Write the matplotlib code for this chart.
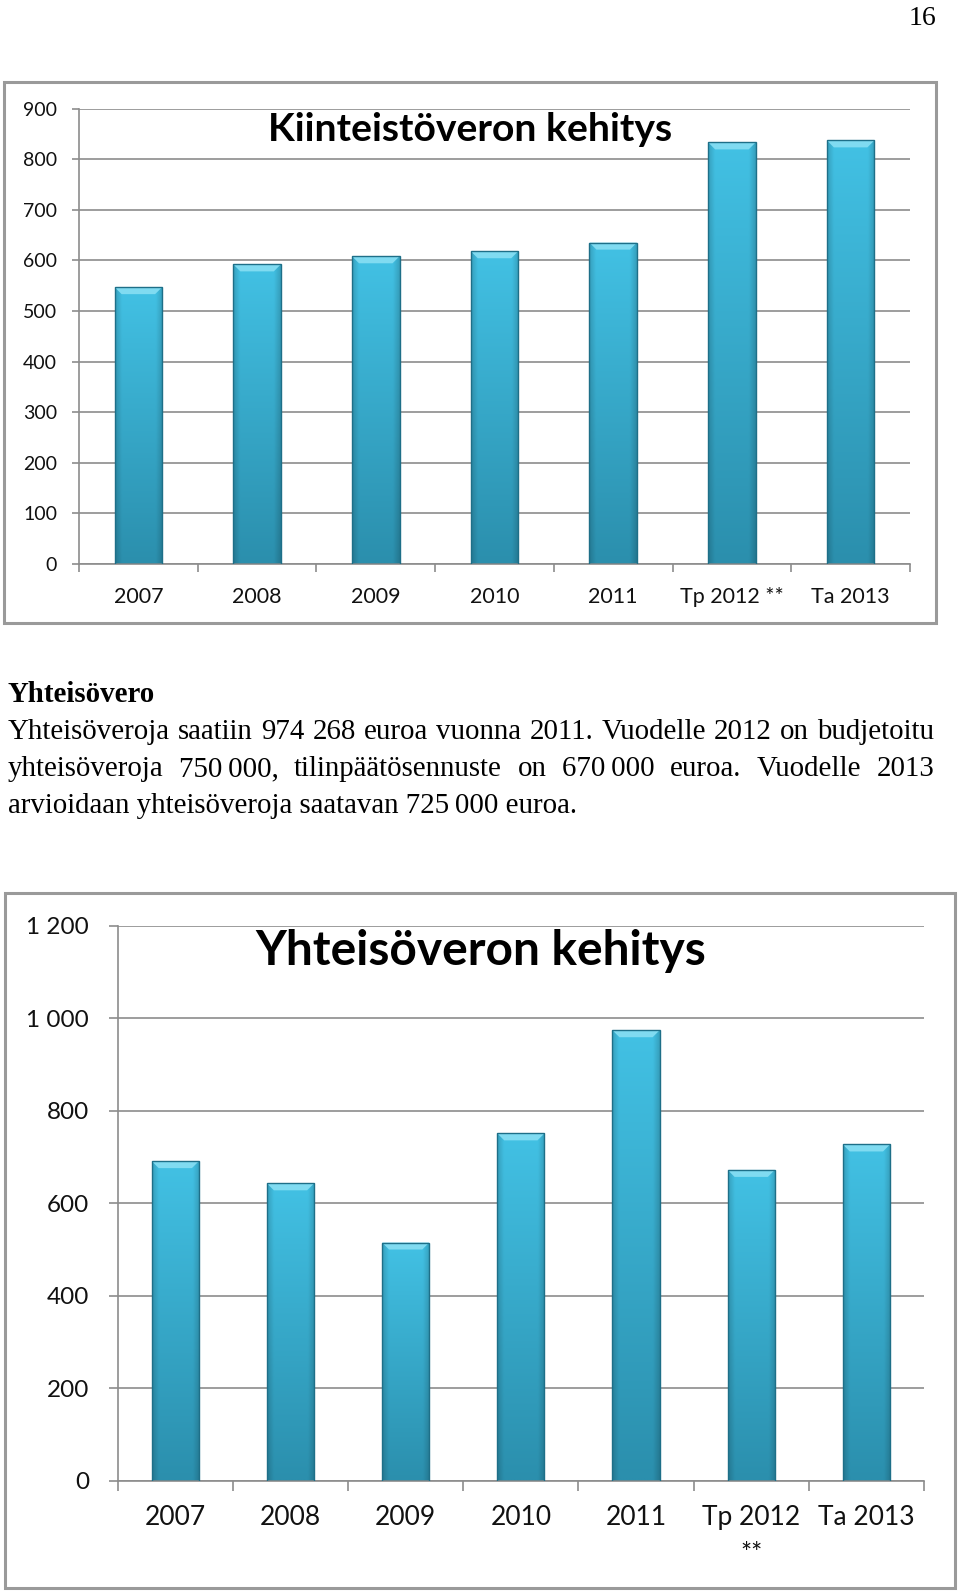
import matplotlib
matplotlib.use("Agg")
import matplotlib.pyplot as plt
import numpy as np
from matplotlib.colors import to_rgb
from matplotlib.patches import Rectangle, Polygon

W, H = 960, 1594
SANS = ["Lato", "DejaVu Sans"]
SERIF = ["Liberation Serif", "DejaVu Serif"]

# --- data -------------------------------------------------------------
categories_top = ["2007", "2008", "2009", "2010", "2011", "Tp 2012 **", "Ta 2013"]
kiinteistovero = [547, 592, 608, 618, 635, 833, 837]
yticks_top = [0, 100, 200, 300, 400, 500, 600, 700, 800, 900]

categories_bottom = ["2007", "2008", "2009", "2010", "2011", "Tp 2012\n**", "Ta 2013"]
yhteisovero = [691, 643, 515, 751, 974, 672, 727]
yticks_bottom = [0, 200, 400, 600, 800, 1000, 1200]
ytick_labels_bottom = ["0", "200", "400", "600", "800", "1 000", "1 200"]

heading = "Yhteisövero"
body_lines = [
    "Yhteisöveroja saatiin 974 268 euroa vuonna 2011. Vuodelle 2012 on budjetoitu",
    "yhteisöveroja 750\u2009000, tilinpäätösennuste on 670\u2009000 euroa. Vuodelle 2013",
    "arvioidaan yhteisöveroja saatavan 725\u2009000 euroa.",
]

BAR_TOP = to_rgb("#42c1e4")
BAR_BOTTOM = to_rgb("#2b8fad")
BEVEL = "#80dbf1"
EDGE = "#1e6f88"
GRID = "#8c8c8c"


def fx(px):
    return px / W


def fy(py):
    return 1 - py / H


fig = plt.figure(figsize=(W / 100, H / 100), dpi=100)
renderer = fig.canvas.get_renderer()


def add_axes_px(left, top, right, bottom):
    return fig.add_axes([fx(left), fy(bottom), (right - left) / W, (bottom - top) / H])


def fit_width(t, target):
    w = t.get_window_extent(renderer).width
    t.set_fontsize(t.get_fontsize() * target / w)


def bar_gradient(ny=80, nx=40):
    t = np.linspace(1, 0, ny)[:, None, None]
    col = np.array(BAR_BOTTOM) + t * (np.array(BAR_TOP) - np.array(BAR_BOTTOM))
    s = np.linspace(0, 1, nx)
    edge = np.clip(1 - np.minimum(s, 1 - s) / 0.14, 0, 1)
    shade = (1 - 0.16 * edge)[None, :, None]
    return np.clip(col * shade, 0, 1)


def beveled_bars(ax, values, width, ymax, bevel_px=7):
    x = np.arange(len(values))
    ax.set_xlim(-0.5, len(values) - 0.5)
    ax.set_ylim(0, ymax)
    pos = ax.get_position()
    upp_y = ymax / (pos.height * H)
    upp_x = len(values) / (pos.width * W)
    bars = ax.bar(x, values, width, color=BAR_TOP, lw=0, zorder=2)
    img = bar_gradient()
    for rect in bars:
        x0, w, h = rect.get_x(), rect.get_width(), rect.get_height()
        im = ax.imshow(img, extent=[x0, x0 + w, 0, h], aspect="auto",
                       interpolation="bilinear", zorder=2.5)
        im.set_clip_path(rect)
        dx, dy = bevel_px * upp_x, bevel_px * upp_y
        ax.add_patch(Polygon([(x0, h), (x0 + w, h), (x0 + w - dx, h - dy), (x0 + dx, h - dy)],
                             closed=True, fc=BEVEL, ec="none", zorder=3))
    ax.bar(x, values, width, fill=False, edgecolor=EDGE, lw=1, zorder=4)
    ax.set_xlim(-0.5, len(values) - 0.5)
    ax.set_ylim(0, ymax)


def style_axes(ax, ncat, yticks, ylabels, yfs, xlabels, xfs, ytick_len, xtick_len, ypad, xpad):
    for s in ("top", "right"):
        ax.spines[s].set_visible(False)
    for s in ("left", "bottom"):
        ax.spines[s].set_color(GRID)
        ax.spines[s].set_linewidth(1.2)
    ax.set_axisbelow(True)
    ax.yaxis.grid(True, color=GRID, lw=1.2)
    ax.set_yticks(yticks)
    ax.set_yticklabels(ylabels, fontsize=yfs, family=SANS, color="#111111")
    ax.tick_params(axis="y", length=ytick_len, width=1.2, color=GRID, pad=ypad)
    ax.set_xticks(range(ncat))
    ax.set_xticklabels(xlabels, fontsize=xfs, family=SANS, color="#111111", linespacing=1.6)
    ax.set_xticks(np.arange(-0.5, ncat, 1.0), minor=True)
    ax.tick_params(axis="x", which="major", length=0, pad=xpad)
    ax.tick_params(axis="x", which="minor", length=xtick_len, width=1.2, color=GRID)


# --- frames -------------------------------------------------------------
for left, top, right, bottom in [(4, 82, 936, 623), (5, 893, 955, 1588)]:
    fig.add_artist(Rectangle((fx(left), fy(bottom)), (right - left) / W, (bottom - top) / H,
                             transform=fig.transFigure, fill=False, edgecolor="#9a9a9a", lw=2.2))

# --- top chart: Kiinteistövero -------------------------------------------
ax1 = add_axes_px(79, 108.5, 910, 564)
beveled_bars(ax1, kiinteistovero, 0.40, 900)
style_axes(ax1, len(categories_top), yticks_top, [str(v) for v in yticks_top], 14,
           categories_top, 15.5, 5, 6, 10.8, 16.5)
t1 = fig.text(fx(470.5), fy(141), "Kiinteistöveron kehitys", ha="center", va="baseline",
              fontsize=28, fontweight="bold", family=SANS)
fit_width(t1, 405)

# --- text block -----------------------------------------------------------
fig.text(fx(936), fy(25), "16", ha="right", va="baseline", fontsize=20, family=SERIF)
fig.text(fx(8), fy(702), heading, ha="left", va="baseline", fontsize=20.8,
         fontweight="bold", family=SERIF)


def justified(line, baseline, x0, x1, fs):
    words = line.split(" ")
    texts = [fig.text(0, fy(baseline), w, ha="left", va="baseline", fontsize=fs, family=SERIF)
             for w in words]
    widths = [t.get_window_extent(renderer).width for t in texts]
    gap = (x1 - x0 - sum(widths)) / (len(words) - 1)
    x = x0
    for t, w in zip(texts, widths):
        t.set_x(fx(x))
        x += w + gap


body_fs = 20.8
justified(body_lines[0], 739, 8, 934, body_fs)
justified(body_lines[1], 776, 8, 934, body_fs)
fig.text(fx(8), fy(813), body_lines[2], ha="left", va="baseline", fontsize=body_fs, family=SERIF)

# --- bottom chart: Yhteisövero -------------------------------------------
ax2 = add_axes_px(117.7, 925.7, 924, 1480.7)
beveled_bars(ax2, yhteisovero, 0.41, 1200)
style_axes(ax2, len(categories_bottom), yticks_bottom, ytick_labels_bottom, 17.5,
           categories_bottom, 19, 6.2, 7, 14.4, 17.5)
t2 = fig.text(fx(481), fy(965), "Yhteisöveron kehitys", ha="center", va="baseline",
              fontsize=34, fontweight="bold", family=SANS)
fit_width(t2, 452)

fig.savefig("out.png", dpi=100)
